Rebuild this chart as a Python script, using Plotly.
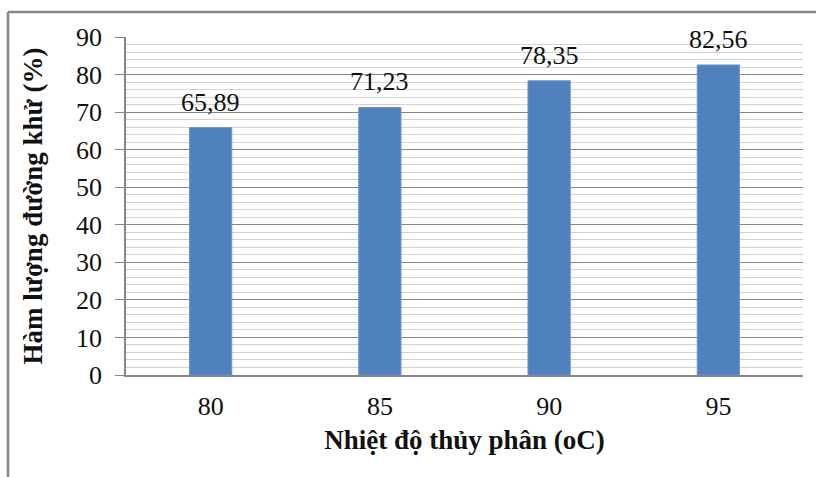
import plotly.graph_objects as go

# Reducing sugar content by hydrolysis temperature
temperatures = ["80", "85", "90", "95"]
sugar_content = [65.89, 71.23, 78.35, 82.56]
value_labels = ["65,89", "71,23", "78,35", "82,56"]

W, H = 816, 477
M_L, M_R, M_T, M_B = 126, 13, 37, 102
plot_h = H - M_T - M_B
plot_w = W - M_L - M_R

serif = "Liberation Serif"
ink = "#111111"
axis_gray = "#868686"

fig = go.Figure(
    go.Bar(
        x=temperatures,
        y=sugar_content,
        marker=dict(color="#4F81BD", line=dict(color="#7097cc", width=1)),
        width=0.25,
    )
)

# value labels above each bar (category axis positions are indices)
for idx, (val, lab) in enumerate(zip(sugar_content, value_labels)):
    fig.add_annotation(x=idx, y=val, text=lab, showarrow=False,
                       yanchor="bottom", yshift=9,
                       font=dict(family=serif, size=26, color=ink))

# outer frame: top and left edges of the chart border
top_y = 1 + (M_T - 12) / plot_h
left_x = -(M_L - 8) / plot_w
fig.add_shape(type="line", xref="paper", yref="paper",
              x0=left_x, x1=1 + (M_R + 5) / plot_w, y0=top_y, y1=top_y,
              line=dict(color="#878787", width=2.5))
fig.add_shape(type="line", xref="paper", yref="paper",
              x0=left_x, x1=left_x, y0=top_y, y1=-(M_B + 5) / plot_h,
              line=dict(color="#878787", width=2.5))

fig.update_layout(
    width=W,
    height=H,
    margin=dict(l=M_L, r=M_R, t=M_T, b=M_B),
    paper_bgcolor="white",
    plot_bgcolor="white",
    showlegend=False,
    font=dict(family=serif, size=26, color=ink),
    bargap=0.75,
)

fig.update_xaxes(
    type="category",
    categoryorder="array",
    categoryarray=temperatures,
    range=[-0.5, len(temperatures) - 0.5],
    showline=True,
    linecolor=axis_gray,
    linewidth=1.5,
    ticks="",
    tickfont=dict(family=serif, size=26, color=ink),
    ticklabelstandoff=7,
    title=dict(text="<b>Nhiệt độ thủy phân (oC)</b>",
               font=dict(family=serif, size=27, color=ink), standoff=10),
    showgrid=False,
)

fig.update_yaxes(
    range=[0, 90],
    dtick=10,
    showline=True,
    linecolor=axis_gray,
    linewidth=1.5,
    ticks="outside",
    ticklen=9,
    tickcolor=axis_gray,
    tickfont=dict(family=serif, size=26, color=ink),
    ticklabelstandoff=8,
    showgrid=True,
    gridcolor=axis_gray,
    gridwidth=1,
    zeroline=False,
    minor=dict(dtick=2, showgrid=True, gridcolor="#d2d2d2", gridwidth=1),
    title=dict(text="<b>Hàm lượng đường khử (%)</b>",
               font=dict(family=serif, size=27, color=ink), standoff=26),
)

fig.write_html("out.html")
